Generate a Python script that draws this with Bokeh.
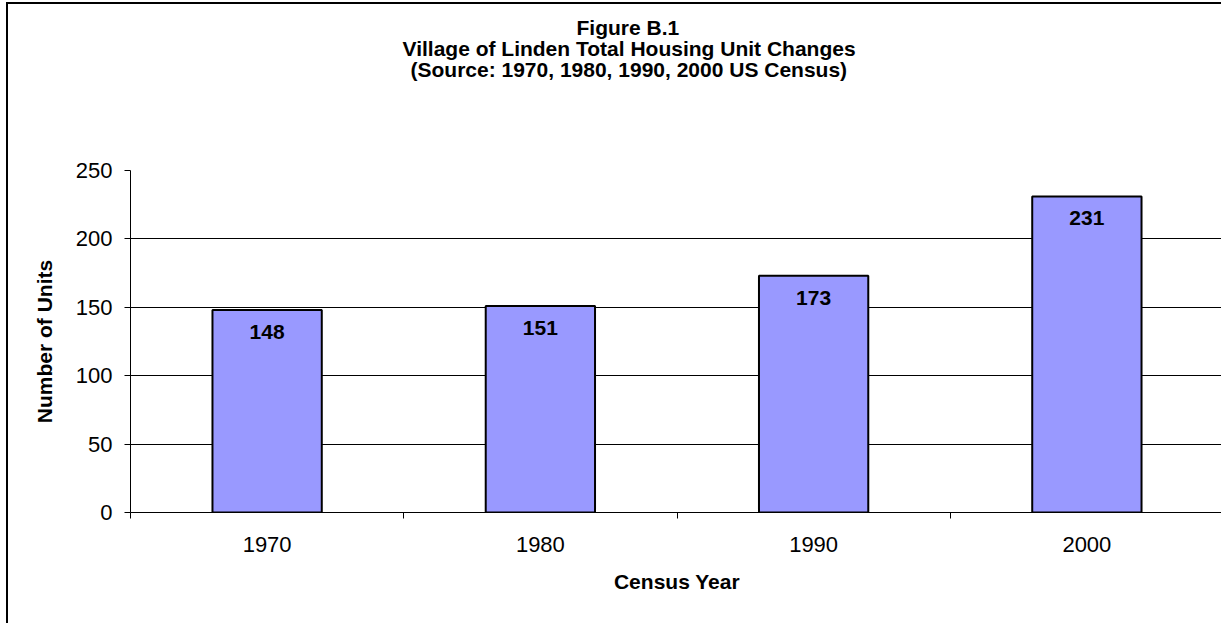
from bokeh.plotting import figure
from bokeh.models import ColumnDataSource, FixedTicker, Range1d, Title
from bokeh.core.properties import value
from bokeh.embed import file_html
from bokeh.resources import INLINE

years = ["1970", "1980", "1990", "2000"]
units = [148, 151, 173, 231]
y_ticks = [0, 50, 100, 150, 200, 250]
title_lines = [
    "Figure B.1",
    "Village of Linden Total Housing Unit Changes",
    "(Source:  1970, 1980, 1990, 2000 US Census)",
]

FONT = "Liberation Sans"

xpos = [i + 0.5 for i in range(len(years))]
src = ColumnDataSource(dict(x=xpos, top=units, lbl=[str(u) for u in units]))

p = figure(
    width=1215, height=621,
    x_range=Range1d(0, len(years)), y_range=Range1d(0, 250),
    output_backend="svg", toolbar_location=None,
    min_border_left=122, min_border_right=0, min_border_top=166, min_border_bottom=113,
    styles={"margin-left": "6px", "margin-top": "2px",
            "border-left": "2px solid black", "border-top": "2px solid black"},
)
p.outline_line_color = None
p.background_fill_color = "white"
p.border_fill_color = "white"

p.vbar(x="x", top="top", bottom=0, width=0.4, source=src,
       fill_color="#9999FF", line_color="black", line_width=2)

p.text(x="x", y="top", text="lbl", source=src, text_align="center",
       text_baseline="alphabetic", y_offset=22,
       text_font=value(FONT), text_font_style="bold", text_font_size="21px",
       text_color="black")

# x axis
xa = p.xaxis[0]
xa.ticker = FixedTicker(ticks=xpos, minor_ticks=list(range(len(years) + 1)))
xa.major_label_overrides = {x: y for x, y in zip(xpos, years)}
xa.major_tick_line_color = None
xa.major_tick_out = 0
xa.major_tick_in = 0
xa.minor_tick_out = 6
xa.minor_tick_in = 0
xa.minor_tick_line_color = "black"
xa.axis_line_color = "black"
xa.major_label_text_font = FONT
xa.major_label_text_font_size = "22px"
xa.major_label_text_color = "black"
xa.major_label_standoff = 18
xa.axis_label = "Census Year"
xa.axis_label_text_font = FONT
xa.axis_label_text_font_style = "bold"
xa.axis_label_text_font_size = "21px"
xa.axis_label_text_color = "black"
xa.axis_label_standoff = 15

# y axis
ya = p.yaxis[0]
ya.ticker = FixedTicker(ticks=y_ticks)
ya.minor_tick_line_color = None
ya.major_tick_out = 6
ya.major_tick_in = 0
ya.major_tick_line_color = "black"
ya.axis_line_color = "black"
ya.major_label_text_font = FONT
ya.major_label_text_font_size = "22px"
ya.major_label_text_color = "black"
ya.major_label_standoff = 12
ya.axis_label = "Number of Units"
ya.axis_label_text_font = FONT
ya.axis_label_text_font_style = "bold"
ya.axis_label_text_font_size = "21px"
ya.axis_label_text_color = "black"
ya.axis_label_standoff = 17

p.xgrid.grid_line_color = None
p.ygrid.ticker = FixedTicker(ticks=y_ticks)
p.ygrid.grid_line_color = "black"
p.ygrid.grid_line_width = 1

# titles stacked above the frame (index 0 is closest to the frame)
p.add_layout(Title(text=" ", text_font_size="21px", standoff=67), "above")
title_offsets = [446, 272, 280]
for txt, off in reversed(list(zip(title_lines, title_offsets))):
    p.add_layout(Title(text=txt, align="left", offset=off, standoff=-4.5,
                       vertical_align="bottom",
                       text_font=FONT, text_font_style="bold",
                       text_font_size="21px", text_color="black"), "above")

open("out.html", "w").write(file_html(p, INLINE))
